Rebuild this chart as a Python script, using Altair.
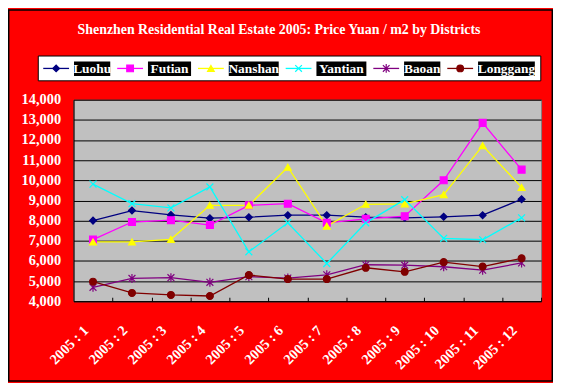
import altair as alt
import pandas as pd

SERIF = "Liberation Serif"

months = ["2005 : 1", "2005 : 2", "2005 : 3", "2005 : 4", "2005 : 5", "2005 : 6",
          "2005 : 7", "2005 : 8", "2005 : 9", "2005 : 10", "2005 : 11", "2005 : 12"]
series = ["Luohu", "Futian", "Nanshan", "Yantian", "Baoan", "Longgang"]

luohu = [8000, 8500, 8280, 8120, 8170, 8270, 8270, 8170, 8140, 8190, 8270, 9060]
futian = [7060, 7930, 8020, 7780, 8760, 8840, 7890, 8090, 8220, 10000, 12850, 10530]
nanshan = [6940, 6940, 7070, 8760, 8760, 10650, 7730, 8810, 8830, 9290, 11720, 9650]
yantian = [9810, 8840, 8630, 9670, 6450, 7890, 5870, 7890, 9040, 7120, 7050, 8140]
baoan = [4690, 5130, 5170, 4940, 5220, 5150, 5310, 5810, 5790, 5710, 5540, 5900]
longgang = [4970, 4410, 4310, 4260, 5300, 5100, 5100, 5660, 5460, 5940, 5720, 6130]

title_text = "Shenzhen Residential Real Estate 2005: Price Yuan / m2 by Districts"

colors = ["#000080", "#FF00FF", "#FFFF00", "#00FFFF", "#800080", "#800000"]
shapes = ["diamond", "square", "triangle-up",
          "M-1,-1L1,1M1,-1L-1,1",
          "M-1,-1L1,1M1,-1L-1,1M0,-1.3L0,1.3",
          "circle"]

values = [luohu, futian, nanshan, yantian, baoan, longgang]
rows = []
for s, vals in zip(series, values):
    for m, v in zip(months, vals):
        rows.append({"series": s, "month": m, "value": v})
df = pd.DataFrame(rows)

W, H = 471, 203

color_scale = alt.Scale(domain=series, range=colors)
shape_scale = alt.Scale(domain=series, range=shapes)
xscale = alt.Scale(type="point", padding=0.5)
yscale = alt.Scale(domain=[4000, 14000], nice=False, zero=False)

yaxis = alt.Axis(values=list(range(4000, 14001, 1000)), format=",.0f", grid=True,
                 gridColor="black", gridWidth=1, ticks=False, domainColor="black",
                 labelColor="white", labelFont=SERIF, labelFontWeight="bold",
                 labelFontSize=14.5, labelPadding=13, title=None)

xaxis_labels = alt.Axis(labelAngle=-45, labelAlign="right", labelBaseline="middle",
                        labelPadding=27, labelOffset=-7, ticks=False, domainColor="black",
                        labelColor="white", labelFont=SERIF, labelFontWeight="bold",
                        labelFontSize=14.5, title=None, grid=False)
xaxis_ticks = alt.Axis(orient="top", offset=-H, labels=False, domain=False, ticks=True,
                       tickSize=4, tickColor="black", tickOffset=W / 24, grid=False,
                       title=None)

lines = alt.Chart(df).mark_line(strokeWidth=1.3).encode(
    x=alt.X("month:N", sort=months, scale=xscale, axis=xaxis_labels),
    y=alt.Y("value:Q", scale=yscale, axis=yaxis),
    color=alt.Color("series:N", scale=color_scale, legend=None),
)

points = alt.Chart(df).mark_point(filled=True, size=48, strokeWidth=1.2, opacity=1).encode(
    x=alt.X("month:N", sort=months, scale=xscale, axis=xaxis_ticks),
    y=alt.Y("value:Q", scale=yscale, axis=yaxis),
    fill=alt.Fill("series:N", scale=color_scale, legend=None),
    stroke=alt.Stroke("series:N", scale=color_scale, legend=None),
    shape=alt.Shape("series:N", scale=shape_scale, legend=None),
)

main = alt.layer(lines, points).resolve_axis(x="independent")

# ---- custom legend (white box, coloured line + marker, white label on black) ----
leg = pd.DataFrame({"series": series, "order": list(range(len(series)))})
lx = alt.Scale(domain=[0, 500], range=[-17.5, 482.5], nice=False, zero=False)

base = alt.Chart(leg).transform_calculate(
    w="length(datum.series) * 6.9 + 2",
    step="datum.w + 38",
).transform_window(
    cum="sum(step)", sort=[alt.SortField("order")], frame=[None, 0]
).transform_calculate(
    m="datum.cum - datum.step",
    lineL="datum.m - 13",
    lineR="datum.m + 13",
    boxL="datum.m + 18",
    boxR="datum.m + 18 + datum.w",
    tx="datum.m + 18 + datum.w / 2",
)

leg_box = base.transform_aggregate(
    lo="min(lineL)", hi="max(boxR)"
).transform_calculate(
    lo2="datum.lo - 5", hi2="datum.hi + 6"
).mark_rect(fill="white", stroke="black", strokeWidth=1).encode(
    x=alt.X("lo2:Q", scale=lx, axis=None),
    x2="hi2:Q",
    y=alt.value(-44),
    y2=alt.value(-19),
)

leg_lines = base.mark_rule(strokeWidth=1.3).encode(
    x=alt.X("lineL:Q", scale=lx, axis=None),
    x2="lineR:Q",
    y=alt.value(-31.5),
    color=alt.Color("series:N", scale=color_scale, legend=None),
)

leg_pts = base.mark_point(filled=True, size=45, strokeWidth=1.2, opacity=1).encode(
    x=alt.X("m:Q", scale=lx, axis=None),
    y=alt.value(-31.5),
    fill=alt.Fill("series:N", scale=color_scale, legend=None),
    stroke=alt.Stroke("series:N", scale=color_scale, legend=None),
    shape=alt.Shape("series:N", scale=shape_scale, legend=None),
)

leg_bg = base.mark_rect(fill="black").encode(
    x=alt.X("boxL:Q", scale=lx, axis=None),
    x2="boxR:Q",
    y=alt.value(-38.5),
    y2=alt.value(-24),
)

leg_txt = base.mark_text(color="white", font=SERIF, fontWeight="bold", fontSize=13.5,
                         align="center", baseline="middle", dy=1).encode(
    x=alt.X("tx:Q", scale=lx, axis=None),
    y=alt.value(-31.5),
    text="series:N",
)

deco = alt.Chart(pd.DataFrame({"t": [title_text]}))
title_mark = deco.mark_text(color="white", font=SERIF, fontWeight="bold", fontSize=14,
                            align="center", baseline="alphabetic").encode(
    x=alt.value(207), y=alt.value(-66), text="t:N")
border = deco.mark_rect(filled=False, stroke="black", strokeWidth=1.5).encode(
    x=alt.value(-65.3), x2=alt.value(482.3), y=alt.value(-90.3), y2=alt.value(283.3))

legend = alt.layer(border, title_mark, leg_box, leg_lines, leg_pts, leg_bg, leg_txt)

chart = alt.layer(main, legend).resolve_scale(x="independent").properties(
    width=W, height=H,
    autosize=alt.AutoSizeParams(type="none"),
    padding={"left": 66, "top": 91, "right": 12, "bottom": 81},
    background="#FF0000",
).configure_view(fill="#C0C0C0", stroke="#808080", strokeWidth=1)

chart.save("out.html", embed_options={"renderer": "svg", "actions": False})
